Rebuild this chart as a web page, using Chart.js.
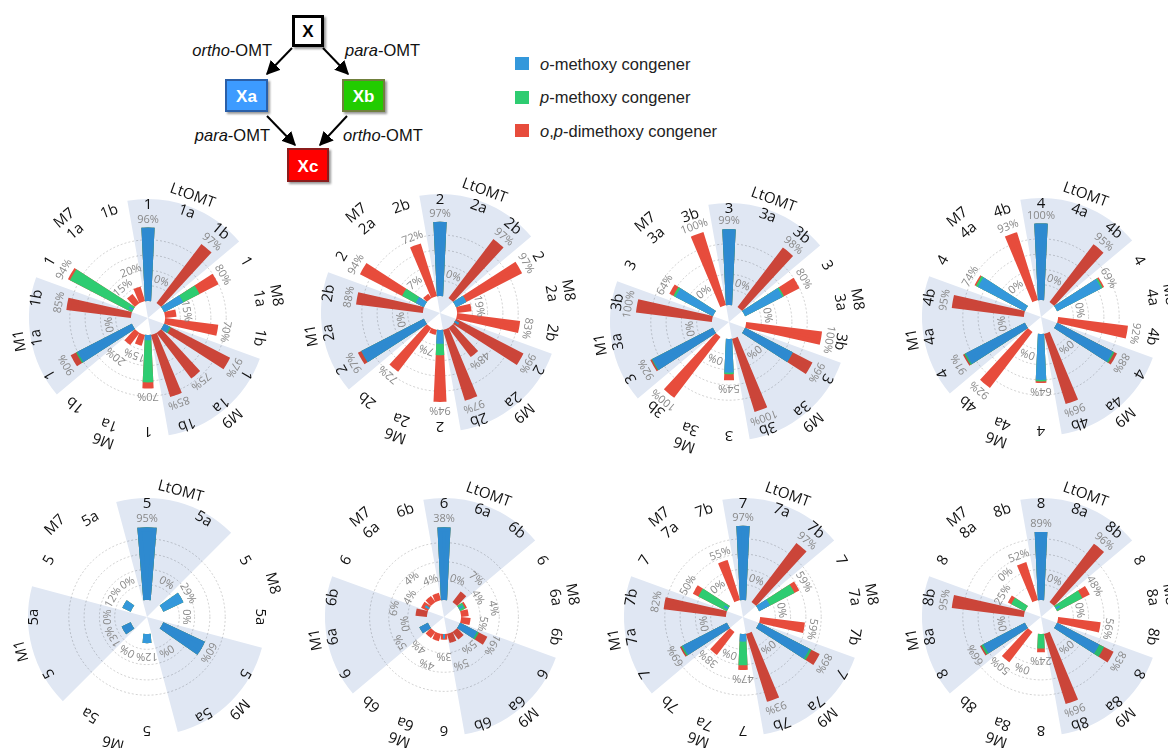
<!DOCTYPE html>
<html>
<head>
<meta charset="utf-8">
<script src="https://cdn.jsdelivr.net/npm/chart.js@4.4.1/dist/chart.umd.min.js"></script>
<style>
html, body { margin: 0; padding: 0; background: #fff; }
body { width: 1168px; height: 748px; position: relative; overflow: hidden; font-family: Arial, "Liberation Sans", sans-serif; }
canvas.polar { position: absolute; }
.sw { position: absolute; width: 14px; height: 13px; }
.lt { position: absolute; font-size: 16.5px; color: #222; white-space: nowrap; line-height: 18px; }
</style>
</head>
<body>
<svg width="260" height="190" style="position:absolute;left:180px;top:0" font-family="Arial, Liberation Sans, sans-serif">
  <defs>
    <marker id="ah" viewBox="0 0 10 10" refX="9" refY="5" markerWidth="7" markerHeight="7" orient="auto"><path d="M0,0 L10,5 L0,10 z" fill="#000"/></marker>
    <filter id="sh" x="-20%" y="-20%" width="150%" height="150%"><feDropShadow dx="2" dy="2" stdDeviation="1.3" flood-color="#000" flood-opacity="0.4"/></filter>
  </defs>
  <rect x="113.5" y="16.5" width="29" height="29" fill="#fff" stroke="#000" stroke-width="3" filter="url(#sh)"/>
  <text x="128" y="37" font-size="17" font-weight="bold" text-anchor="middle">X</text>
  <rect x="46" y="80" width="41" height="31" fill="#3d9bff" stroke="#2a5ea8" stroke-width="2" filter="url(#sh)"/>
  <text x="66.5" y="101.5" font-size="17" font-weight="bold" fill="#fff" text-anchor="middle">Xa</text>
  <rect x="163" y="80" width="41" height="31" fill="#22cc00" stroke="#6f803c" stroke-width="2" filter="url(#sh)"/>
  <text x="183.5" y="101.5" font-size="17" font-weight="bold" fill="#fff" text-anchor="middle">Xb</text>
  <rect x="108" y="149" width="40" height="32" fill="#ff0000" stroke="#8b1a1a" stroke-width="2" filter="url(#sh)"/>
  <text x="128" y="171.5" font-size="17" font-weight="bold" fill="#fff" text-anchor="middle">Xc</text>
  <g stroke="#000" stroke-width="2" marker-end="url(#ah)">
    <line x1="112" y1="48" x2="87" y2="74"/>
    <line x1="143" y1="48" x2="168" y2="74"/>
    <line x1="87" y1="116" x2="115" y2="145"/>
    <line x1="167" y1="116" x2="140" y2="145"/>
  </g>
  <g font-size="16.5" fill="#111">
    <text x="92" y="56" text-anchor="end"><tspan font-style="italic">ortho</tspan>-OMT</text>
    <text x="165" y="56"><tspan font-style="italic">para</tspan>-OMT</text>
    <text x="90" y="141" text-anchor="end"><tspan font-style="italic">para</tspan>-OMT</text>
    <text x="163" y="141"><tspan font-style="italic">ortho</tspan>-OMT</text>
  </g>
</svg>

<div class="sw" style="left:515px;top:57px;background:#3498db"></div>
<div class="lt" style="left:540px;top:55px"><i>o</i>-methoxy congener</div>
<div class="sw" style="left:515px;top:91px;background:#2ecc71"></div>
<div class="lt" style="left:540px;top:88px"><i>p</i>-methoxy congener</div>
<div class="sw" style="left:515px;top:124px;background:#e74c3c"></div>
<div class="lt" style="left:540px;top:122px"><i>o</i>,<i>p</i>-dimethoxy congener</div>

<canvas id="c1" class="polar" width="320" height="320"></canvas>
<canvas id="c2" class="polar" width="320" height="320"></canvas>
<canvas id="c3" class="polar" width="320" height="320"></canvas>
<canvas id="c4" class="polar" width="320" height="320"></canvas>
<canvas id="c5" class="polar" width="320" height="320"></canvas>
<canvas id="c6" class="polar" width="320" height="320"></canvas>
<canvas id="c7" class="polar" width="320" height="320"></canvas>
<canvas id="c8" class="polar" width="320" height="320"></canvas>

<script>
// enzymes clockwise from the top, each with its substrates X, Xa, Xb
const enzymes = ['LtOMT', 'M8', 'M9', 'M6', 'M1', 'M7'];

const subs1 = ['1', '1a', '1b'];
const c1Blue  = [96, 0, 0, 28, 0, 0, 8, 0, 0, 7, 0, 0, 80, 0, 0, 3, 0, 0];
const c1Green = [0, 0, 0, 24, 0, 0, 2, 0, 0, 55, 0, 0, 2, 0, 0, 88, 0, 0];
const c1Red   = [0, 0, 97, 28, 15, 70, 87, 75, 85, 8, 15, 20, 8, 0, 85, 3, 15, 20];

const subs2 = ['2', '2a', '2b'];
const c2Blue  = [97, 0, 0, 15, 0, 0, 5, 0, 0, 18, 0, 0, 92, 0, 0, 12, 0, 0];
const c2Green = [0, 0, 0, 0, 0, 0, 0, 0, 0, 15, 0, 0, 0, 0, 0, 20, 0, 0];
const c2Red   = [0, 0, 97, 82, 19, 83, 94, 48, 97, 61, 7, 72, 5, 0, 88, 62, 7, 72];

const subs3 = ['3', '3a', '3b'];
const c3Blue  = [99, 0, 0, 55, 0, 0, 70, 0, 0, 44, 0, 0, 89, 0, 0, 55, 0, 0];
const c3Green = [0, 0, 0, 2, 0, 0, 0, 0, 0, 2, 0, 0, 1, 0, 0, 3, 0, 0];
const c3Red   = [0, 0, 98, 23, 0, 100, 29, 0, 100, 8, 0, 100, 2, 0, 100, 6, 0, 100];

const subs4 = ['4', '4a', '4b'];
const c4Blue  = [100, 0, 0, 65, 0, 0, 82, 0, 0, 60, 0, 0, 87, 0, 0, 69, 0, 0];
const c4Green = [0, 0, 0, 2, 0, 0, 2, 0, 0, 2, 0, 0, 2, 0, 0, 3, 0, 0];
const c4Red   = [0, 0, 95, 2, 0, 92, 4, 0, 96, 2, 0, 92, 2, 0, 95, 2, 0, 93];

const subs5 = ['5', '5a'];
const c5Blue  = [95, 0, 29, 0, 60, 0, 12, 0, 13, 0, 12, 0];
const c5Green = [0, 0, 0, 0, 0, 0, 0, 0, 0, 0, 0, 0];
const c5Red   = [0, 0, 0, 0, 0, 0, 0, 0, 0, 0, 0, 0];

const subs6 = ['6', '6a', '6b'];
const c6Blue  = [38, 0, 0, 2, 0, 0, 10, 0, 0, 2, 0, 0, 5, 0, 0, 1, 0, 0];
const c6Green = [0, 0, 0, 1, 0, 0, 1, 0, 0, 0, 0, 0, 0, 0, 0, 1, 0, 0];
const c6Red   = [0, 0, 7, 1, 4, 5, 5, 5, 5, 1, 4, 4, 0, 0, 6, 2, 4, 4];

const subs7 = ['7', '7a', '7b'];
const c7Blue  = [97, 0, 0, 16, 0, 0, 74, 0, 0, 10, 0, 0, 65, 0, 0, 5, 0, 0];
const c7Green = [0, 0, 0, 36, 0, 0, 3, 0, 0, 31, 0, 0, 2, 0, 0, 37, 0, 0];
const c7Red   = [0, 0, 97, 7, 0, 59, 12, 0, 93, 6, 0, 38, 2, 0, 82, 8, 0, 55];

const subs8 = ['8', '8a', '8b'];
const c8Blue  = [89, 0, 0, 5, 0, 0, 62, 0, 0, 0, 0, 0, 61, 0, 0, 0, 0, 0];
const c8Green = [0, 0, 0, 32, 0, 0, 7, 0, 0, 19, 0, 0, 3, 0, 0, 20, 0, 0];
const c8Red   = [0, 0, 96, 11, 0, 56, 14, 0, 96, 5, 0, 50, 2, 0, 95, 5, 0, 52];

// axis top value per chart (chart 6 is zoomed in)
const fullScale = [100, 100, 100, 100, 100, 40, 100, 100];

// layout: centre of every wheel on the page
const centres = [[148, 318], [440, 313], [729, 322], [1041, 317], [147, 617], [444, 617], [743, 617], [1041, 617]];

const BLUE = '#3498db', GREEN = '#2ecc71', RED = '#e74c3c', SHADE = 'rgb(224,231,243)';
const R = 119, HOLE = 17, BW = 4.5;

function makeWheel(idx, subs, blue, green, red) {
    const canvas = document.getElementById('c' + (idx + 1));
    canvas.style.left = (centres[idx][0] - 160) + 'px';
    canvas.style.top = (centres[idx][1] - 160) + 'px';

    const full = fullScale[idx];
    const px = 76.5 / full;
    const min = -HOLE / px, max = (R - HOLE) / px;
    const gridVals = full === 100 ? [20, 40, 60, 80] : [10, 20, 30];
    const n = enzymes.length * subs.length;
    const step = 360 / n;
    const barAng = subs.length === 2 ? 9.5 : 5.5;

    const cumG = blue.map((b, i) => b + green[i]);
    const cumR = cumG.map((g, i) => g + red[i]);
    const totals = cumR;
    // gap, bar, gap, bar ... so each bar sits on its spoke
    const spread = arr => { const out = [0]; arr.forEach(v => out.push(v, 0)); return out; };

    const barSet = (arr, color, order) => ({
        data: spread(arr),
        order: order,
        backgroundColor: c => c.dataIndex % 2 ? color : 'rgba(0,0,0,0)',
        borderColor: color,
        borderWidth: c => (c.dataIndex % 2 && c.raw > 0) ? BW : 0,
        borderJoinStyle: 'miter',
        angle: c => c.dataIndex === 0 ? (step - barAng) / 2 : (c.dataIndex % 2 ? barAng : step - barAng),
        clip: false
    });

    const labelPlugin = {
        id: 'wheelLabels',
        afterDatasetsUpdate(chart) {
            const sc = chart.scales.r;
            const inner = sc.getDistanceFromCenterForValue(0) + BW / 2;
            for (let d = 1; d < chart.data.datasets.length; d++) {
                chart.getDatasetMeta(d).data.forEach(el => {
                    el.innerRadius = inner;
                    el.outerRadius = Math.max(el.outerRadius - BW / 2, inner);
                });
            }
        },
        beforeDatasetDraw(chart, args) {
            if (args.index === 0) {
                chart.ctx.save();
                chart.ctx.globalCompositeOperation = 'multiply';
            }
        },
        afterDatasetDraw(chart, args) {
            if (args.index === 0) chart.ctx.restore();
        },
        afterDraw(chart) {
            const sc = chart.scales.r, ctx = chart.ctx;
            const cx = sc.xCenter, cy = sc.yCenter;
            const put = (txt, deg, r, font, color) => {
                const a = deg * Math.PI / 180;
                ctx.save();
                ctx.translate(cx + r * Math.sin(a), cy - r * Math.cos(a));
                ctx.rotate(a);
                ctx.font = font;
                ctx.fillStyle = color;
                ctx.textAlign = 'center';
                ctx.textBaseline = 'middle';
                ctx.fillText(txt, 0, 0);
                ctx.restore();
            };
            // value labels: small neighbours that would touch are pushed outwards
            let prev = -100;
            for (let i = 0; i < n; i++) {
                const deg = i * step;
                const tip = sc.getDistanceFromCenterForValue(totals[i]);
                let r = Math.max(tip + 8, 39);
                if (Math.abs(r - prev) < 10 && r * step * Math.PI / 180 < 17) r = prev + 11;
                prev = r;
                put(totals[i] + '%', deg, r, '11px "Open Sans"', '#888');
                put(subs[i % subs.length], deg, 113, '15px "Open Sans"', '#111');
            }
            enzymes.forEach((e, k) => {
                const deg = k * 60 + (subs.length - 1) * step / 2;
                put(e, deg, 130, '15px "Open Sans"', '#111');
            });
        }
    };

    new Chart(canvas, {
        type: 'polarArea',
        data: {
            datasets: [
                {
                    data: enzymes.map(() => max),
                    order: 0,
                    backgroundColor: enzymes.map((e, k) => k % 2 ? 'rgba(0,0,0,0)' : SHADE),
                    borderWidth: 0,
                    angle: 60,
                    clip: false
                },
                barSet(blue, BLUE, 1),
                barSet(cumG, GREEN, 2),
                barSet(cumR, RED, 3)
            ]
        },
        options: {
            responsive: false,
            animation: false,
            events: [],
            layout: { padding: 41 },
            plugins: { legend: { display: false }, tooltip: { enabled: false } },
            scales: {
                r: {
                    type: 'radialLinear',
                    min: min,
                    max: max,
                    startAngle: -step / 2,
                    afterBuildTicks: s => { s.ticks = gridVals.map(v => ({ value: v })); },
                    ticks: { display: false },
                    pointLabels: { display: false },
                    angleLines: { display: false },
                    grid: { circular: true, color: 'rgba(0,0,0,0.18)', lineWidth: 1 },
                    border: { dash: [2, 2] }
                }
            }
        },
        plugins: [labelPlugin]
    });
}

makeWheel(0, subs1, c1Blue, c1Green, c1Red);
makeWheel(1, subs2, c2Blue, c2Green, c2Red);
makeWheel(2, subs3, c3Blue, c3Green, c3Red);
makeWheel(3, subs4, c4Blue, c4Green, c4Red);
makeWheel(4, subs5, c5Blue, c5Green, c5Red);
makeWheel(5, subs6, c6Blue, c6Green, c6Red);
makeWheel(6, subs7, c7Blue, c7Green, c7Red);
makeWheel(7, subs8, c8Blue, c8Green, c8Red);
</script>
</body>
</html>
